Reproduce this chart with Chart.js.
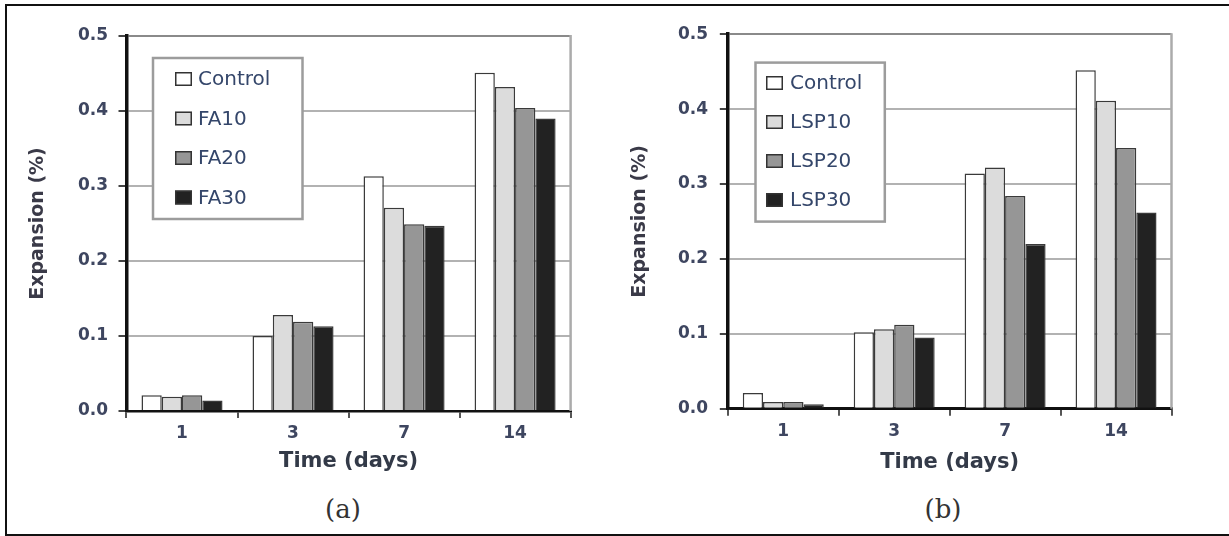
<!DOCTYPE html>
<html><head><meta charset="utf-8">
<script src="https://cdn.jsdelivr.net/npm/chart.js@4"></script>
<style>
html,body{margin:0;padding:0;background:#fff;overflow:hidden}
#page{position:relative;width:1229px;height:536px;overflow:hidden;background:#fff}
#frame{position:absolute;left:5px;top:4px;width:1260px;height:532px;border:2px solid #111;box-sizing:border-box}
canvas{position:absolute;top:0}
.cap{position:absolute;top:494px;height:30px;line-height:30px;font-family:"DejaVu Serif","Liberation Serif",serif;font-size:26px;color:#333;transform:translateX(-50%)}
</style></head>
<body>
<div id="page">
  <div id="frame"></div>
  <canvas id="ca" width="600" height="480" style="left:0px"></canvas>
  <canvas id="cb" width="629" height="480" style="left:600px"></canvas>
  <div class="cap" style="left:343px">(a)</div>
  <div class="cap" style="left:943px">(b)</div>
</div>
<script>
// ---- data ----
const categories = ['1', '3', '7', '14'];
const yTicks = [0.0, 0.1, 0.2, 0.3, 0.4, 0.5];
const yTitle = 'Expansion (%)';
const xTitle = 'Time (days)';

const seriesLabelsA = ['Control', 'FA10', 'FA20', 'FA30'];
const controlA = [0.021, 0.100, 0.313, 0.451];
const fa10 = [0.019, 0.128, 0.271, 0.432];
const fa20 = [0.021, 0.119, 0.249, 0.404];
const fa30 = [0.014, 0.113, 0.247, 0.390];

const seriesLabelsB = ['Control', 'LSP10', 'LSP20', 'LSP30'];
const controlB = [0.021, 0.102, 0.314, 0.452];
const lsp10 = [0.009, 0.106, 0.322, 0.411];
const lsp20 = [0.009, 0.112, 0.284, 0.348];
const lsp30 = [0.006, 0.095, 0.220, 0.262];

const fills = ['#ffffff', '#dcdcdc', '#969696', '#222222'];

// ---- plugins ----
const frameRight = {
  id: 'frameRight',
  afterDatasetsDraw(chart) {
    const {ctx, chartArea: ca} = chart;
    ctx.save();
    ctx.strokeStyle = '#ababab';
    ctx.lineWidth = 2.5;
    ctx.beginPath();
    ctx.moveTo(ca.right, ca.top - 1);
    ctx.lineTo(ca.right, ca.bottom);
    ctx.stroke();
    ctx.restore();
  }
};
const boxLegend = {
  id: 'boxLegend',
  afterDraw(chart, args, o) {
    const {ctx, chartArea: ca} = chart;
    const x = ca.left + o.dx, y = ca.top + o.dy;
    ctx.save();
    ctx.fillStyle = '#fff';
    ctx.fillRect(x, y, o.w, o.h);
    ctx.strokeStyle = '#9c9c9c';
    ctx.lineWidth = 2.5;
    ctx.strokeRect(x, y, o.w, o.h);
    ctx.font = '20px "DejaVu Sans"';
    ctx.textBaseline = 'middle';
    chart.data.datasets.forEach((ds, i) => {
      const cy = y + o.firstRow + i * o.rowGap;
      const mx = x + o.padX;
      ctx.fillStyle = ds.backgroundColor;
      ctx.fillRect(mx, cy - 7, 17, 14);
      ctx.strokeStyle = '#333';
      ctx.lineWidth = 1.5;
      ctx.strokeRect(mx + 0.75, cy - 6.25, 15.5, 12.5);
      ctx.fillStyle = '#34466a';
      ctx.fillText(ds.label, mx + o.textGap, cy + 1);
    });
    ctx.restore();
  }
};

function makeChart(id, labels, series, cfg) {
  const datasets = series.map((d, i) => ({
    label: labels[i],
    data: d,
    backgroundColor: fills[i],
    borderColor: '#3a3a3a',
    borderWidth: 1.5,
    categoryPercentage: 0.73,
    barPercentage: 1.0
  }));
  return new Chart(document.getElementById(id), {
    type: 'bar',
    data: {labels: categories, datasets},
    plugins: [frameRight, boxLegend],
    options: {
      responsive: false,
      animation: false,
      devicePixelRatio: 1,
      layout: {padding: {left: 0, top: cfg.top, right: cfg.right, bottom: cfg.bottom}},
      plugins: {
        legend: {display: false},
        tooltip: {enabled: false},
        boxLegend: cfg.legend
      },
      scales: {
        x: {
          afterFit: s => { s.height = cfg.xh; },
          grid: {offset: true, drawOnChartArea: false, drawTicks: true, tickLength: 7, tickColor: '#555', lineWidth: 2},
          border: {color: '#111', width: 2.5},
          ticks: {font: {family: 'DejaVu Sans', size: 17, weight: 'bold'}, color: '#3e4660', padding: 5.3},
          title: {display: true, text: xTitle, font: {family: 'DejaVu Sans', size: 21, weight: 'bold'}, color: '#333a48', padding: {top: 0, bottom: cfg.xtPad}}
        },
        y: {
          min: 0, max: 0.5,
          afterBuildTicks: s => { s.ticks = yTicks.map(v => ({value: v})); },
          afterFit: s => { s.width = cfg.yw; },
          ticks: {callback: v => Number(v).toFixed(1), font: {family: 'DejaVu Sans', size: 17, weight: 'bold'}, color: '#3e4660', padding: cfg.ytPad},
          grid: {
            color: c => (c.tick && c.tick.value === 0) ? '#111' : (c.tick && c.tick.value === 0.5 ? '#8a8a8a' : '#b2b2b2'),
            lineWidth: 2, tickLength: 8, tickColor: '#444', drawTicks: true
          },
          border: {color: '#111', width: 3.5},
          title: {display: true, text: yTitle, font: {family: 'DejaVu Sans', size: 19, weight: 'bold'}, color: '#3a3a48', padding: {top: cfg.ttPad, bottom: 0}}
        }
      }
    }
  });
}

makeChart('ca', seriesLabelsA, [controlA, fa10, fa20, fa30], {
  top: 36, right: 29.4, bottom: 4, xh: 65, yw: 126.5, xtPad: 1.4, ytPad: 10.5, ttPad: 26.2,
  legend: {dx: 26.5, dy: 22, w: 149.5, h: 161, firstRow: 21, rowGap: 39.5, padX: 22, textGap: 23}
});
makeChart('cb', seriesLabelsB, [controlB, lsp10, lsp20, lsp30], {
  top: 34.2, right: 57.5, bottom: 4.3, xh: 67, yw: 127.8, xtPad: 0.9, ytPad: 11.8, ttPad: 28.3,
  legend: {dx: 27.7, dy: 28.4, w: 129.3, h: 159, firstRow: 20.4, rowGap: 39, padX: 10.5, textGap: 24}
});
</script>
</body></html>
